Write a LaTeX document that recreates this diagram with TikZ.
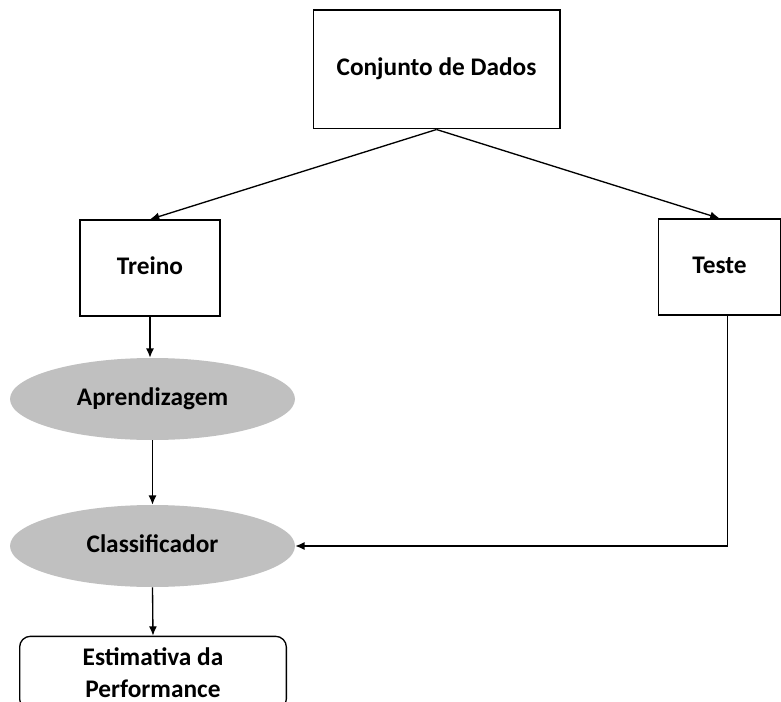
\documentclass[tikz,border=0pt]{standalone}
\usepackage{fontspec}
\setmainfont{Carlito}
\usetikzlibrary{shapes.geometric,arrows.meta}

\definecolor{cinza}{RGB}{192,192,192}

\tikzset{
    texto/.style={font=\bfseries\fontsize{19}{24}\selectfont, align=center, inner sep=0pt},
    linha/.style={text height=2ex, text depth=0ex},
    caixa/.style={texto, linha, rectangle, draw, line width=1pt},
    elipse/.style={texto, linha, ellipse, fill=cinza, minimum width=213.75pt, minimum height=61.5pt},
    final/.style={texto, rectangle, rounded corners=8pt, draw, line width=1pt,
        minimum width=200pt, minimum height=55pt},
    seta/.style={-{Latex[length=7pt,width=6pt]}, line width=1pt}
}

\begin{document}
\begin{tikzpicture}[x=0.75pt, y=-0.75pt]

    \clip (0,0) rectangle (781,702);

    % caixas
    \node (conjunto) [caixa, minimum width=185pt, minimum height=89pt] at (436.5,69.5) {Conjunto de Dados};
    \node (treino) [caixa, minimum width=105pt, minimum height=72pt] at (150,268) {Treino};
    \node (teste) [caixa, minimum width=92pt, minimum height=72pt] at (719.5,267) {Teste};

    % elipses
    \node (aprend) [elipse] at (152.5,399) {Aprendizagem};
    \node (classif) [elipse] at (152.5,546) {Classificador};

    \node (estim) [final] at (153,673) {Estimativa da\\Performance};

    % setas
    \draw[seta] (conjunto.south) -- (treino.north);
    \draw[seta] (conjunto.south) -- (teste.north);
    \draw[seta] (treino.south) -- (treino.south |- aprend.north);
    \draw[seta] (aprend.south) -- (classif.north);
    \draw[seta] (classif.south) -- (estim.north);
    \draw[seta] ([xshift=6pt]teste.south) |- (classif.east);

\end{tikzpicture}
\end{document}
